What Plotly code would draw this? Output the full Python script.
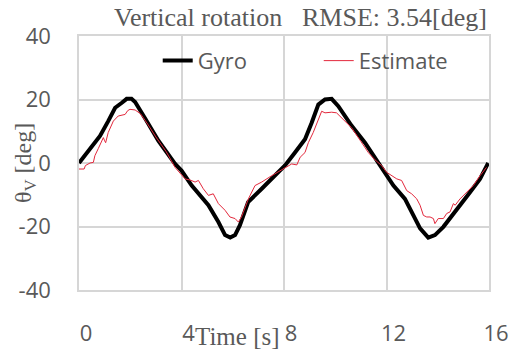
import plotly.graph_objects as go

# Gyro (reference) angle
time_gyro = [0.0, 0.4, 0.82, 1.14, 1.41, 1.66, 1.86, 2.05, 2.19, 2.6, 3.1, 3.75, 4.0,
             4.4, 5.05, 5.44, 5.7, 5.9, 6.09, 6.28, 6.6, 7.13, 7.65, 8.04, 8.43, 8.82,
             9.08, 9.34, 9.6, 9.86, 10.12, 10.64, 11.16, 11.55, 11.85, 12.27, 12.72,
             13.05, 13.31, 13.63, 13.89, 14.22, 14.74, 15.26, 15.65, 15.97]
theta_gyro = [0.0, 4.0, 8.5, 13.2, 17.4, 18.9, 20.2, 20.2, 19.2, 13.8, 7.0, -0.3, -2.4,
              -7.1, -13.3, -18.6, -22.7, -23.5, -22.7, -19.6, -12.3, -8.1, -4.0, -0.8, 3.3, 7.5,
              12.7, 18.4, 20.0, 20.2, 17.9, 11.7, 6.4, 1.8, -2.0, -7.1, -11.3,
              -16.5, -20.6, -23.5, -22.7, -20.1, -14.4, -9.2, -5.0, 0.0]

# Estimated angle
time_est = [0.0, 0.2, 0.25, 0.43, 0.56, 0.62, 0.75, 0.82, 0.95, 1.0, 1.04, 1.14, 1.34,
            1.53, 1.8, 1.9, 1.99, 2.19, 2.4, 2.7, 3.0, 3.4, 3.75, 4.14, 4.35, 4.53, 4.66,
            4.85, 5.05, 5.24, 5.44, 5.7, 5.89, 6.09, 6.22, 6.34, 6.61, 6.87, 7.13, 7.52,
            8.04, 8.3, 8.5, 8.63, 8.82, 8.95, 9.14, 9.34, 9.47, 9.6, 9.86, 10.05, 10.35,
            10.64, 11.0, 11.29, 11.55, 11.81, 12.0, 12.2, 12.4, 12.59, 12.79, 12.98, 13.18,
            13.31, 13.44, 13.57, 13.7, 13.83, 13.89, 14.02, 14.22, 14.35, 14.48, 14.61,
            14.68, 14.87, 15.13, 15.39, 15.65, 15.84, 15.9]
theta_est = [-1.9, -1.9, -0.8, 0.0, 0.2, 2.3, 4.5, 5.9, 8.0, 7.0, 6.4, 9.6, 13.2,
             14.8, 15.3, 16.5, 16.9, 16.7, 15.5, 12.0, 8.2, 3.6, -1.4, -5.0, -5.4, -6.0, -5.5,
             -8.1, -10.2, -9.7, -12.8, -14.9, -17.0, -17.5, -18.6, -17.0, -11.3, -7.1, -6.0, -4.0,
             -1.4, -0.3, -0.6, 1.8, 3.3, 6.4, 9.6, 13.7, 16.3, 15.8, 16.0, 15.8, 13.5,
             11.1, 6.8, 3.3, 1.0, -0.8, -2.9, -4.0, -5.0, -5.5, -8.7, -9.7, -11.3,
             -13.3, -16.5, -17.0, -17.0, -17.5, -19.1, -17.5, -17.5, -15.9, -15.4, -12.8,
             -13.3, -11.3, -9.2, -7.1, -4.0, -1.9, -1.4]

x_ticks = [0, 4, 8, 12, 16]
y_ticks = [-40, -20, 0, 20, 40]
y_ticktext = ["-40", "-20", "0", "20", "40"]

GRID = "#d6d6d6"
TXT = "#595959"
SANS = "Open Sans"
SERIF = "Liberation Serif, Times New Roman, serif"

fig = go.Figure()
fig.add_trace(go.Scatter(x=time_gyro, y=theta_gyro, mode="lines", name="Gyro",
                         line=dict(color="black", width=4)))
fig.add_trace(go.Scatter(x=time_est, y=theta_est, mode="lines", name="Estimate",
                         line=dict(color="#e3283c", width=1)))

fig.update_layout(
    width=519, height=351,
    margin=dict(l=79, r=30, t=36, b=61),
    paper_bgcolor="white", plot_bgcolor="white",
    showlegend=True,
    legend=dict(orientation="h", x=0.192, y=0.985, xanchor="left", yanchor="top",
                font=dict(family=SANS, size=22, color=TXT),
                entrywidth=116, entrywidthmode="pixels",
                bgcolor="rgba(0,0,0,0)"),
    xaxis=dict(range=[0, 16], tickvals=x_ticks, showgrid=True, gridcolor=GRID, gridwidth=1.5,
               zeroline=False, showline=True, linecolor=GRID, linewidth=1.5, mirror=True,
               ticks="", tickfont=dict(family=SANS, size=22, color=TXT), automargin=False,
               ticklabelstandoff=23, ticklabelshift=7),
    yaxis=dict(range=[-40, 40], tickvals=y_ticks, ticktext=y_ticktext, showgrid=True,
               gridcolor=GRID, gridwidth=1.5,
               zeroline=False, showline=True, linecolor=GRID, linewidth=1.5, mirror=True,
               ticks="", tickfont=dict(family=SANS, size=22, color=TXT), automargin=False,
               ticklabelstandoff=22),
    annotations=[
        dict(text="Vertical rotation", xref="paper", yref="paper",
             x=(112 - 79) / 410, y=1 + (36 - 18) / 254, xanchor="left", yanchor="middle",
             showarrow=False, font=dict(family=SERIF, size=26, color=TXT)),
        dict(text="RMSE: 3.54[deg]", xref="paper", yref="paper",
             x=(489 - 79) / 410, y=1 + (36 - 18) / 254, xanchor="right", yanchor="middle",
             showarrow=False, font=dict(family=SERIF, size=26, color=TXT)),
        dict(text="Time [s]", xref="paper", yref="paper",
             x=(237 - 79) / 410, y=-(336 - 290) / 254, xanchor="center", yanchor="middle",
             showarrow=False, font=dict(family=SERIF, size=25, color=TXT)),
        dict(text="θ<sub>V</sub> [deg]", xref="paper", yref="paper", textangle=-90,
             x=-(79 - 25) / 410, y=(290 - 163) / 254, xanchor="center", yanchor="middle",
             showarrow=False, font=dict(family=SERIF, size=24, color=TXT)),
    ],
)

fig.write_html("out.html", config={"displayModeBar": False},
               post_script="document.body.style.margin='0';")
